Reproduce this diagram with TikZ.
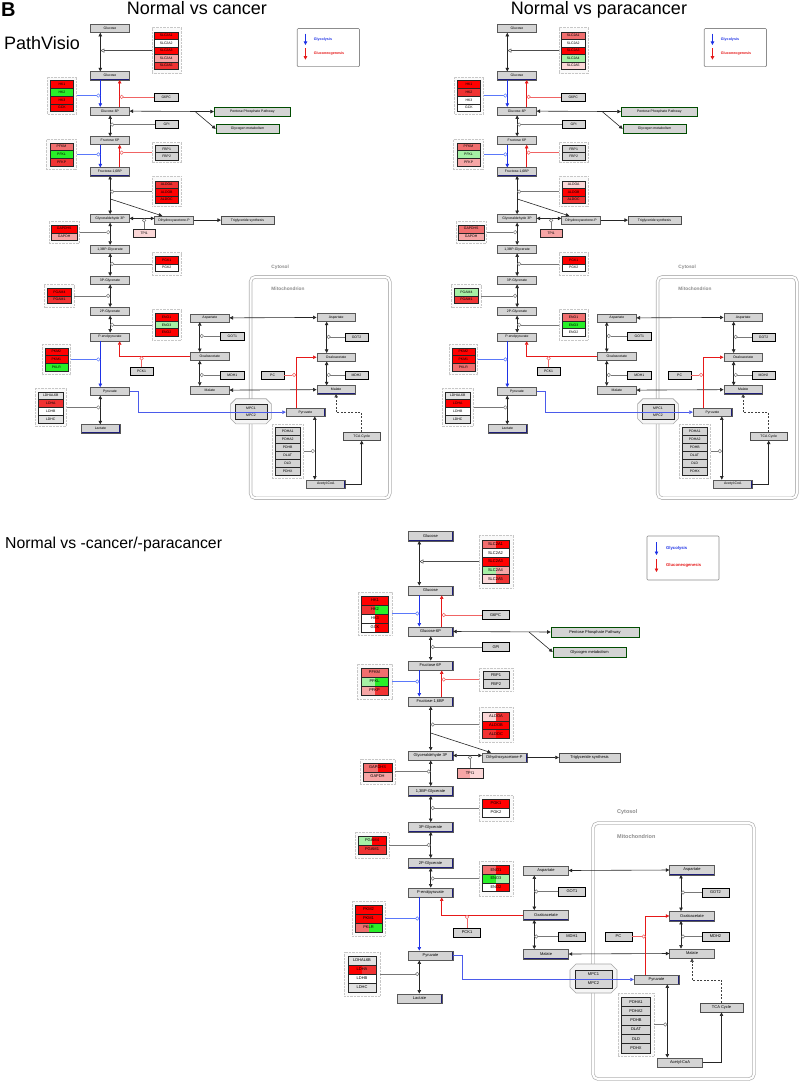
\documentclass[tikz,border=0pt]{standalone}
\usepackage{fontspec}
\setmainfont{Liberation Sans}
\usetikzlibrary{arrows.meta}
\definecolor{metgray}{RGB}{212,212,212}
\definecolor{navyedge}{RGB}{30,30,120}
\definecolor{glyblue}{RGB}{30,50,230}
\definecolor{glured}{RGB}{230,25,25}
\definecolor{catblue}{RGB}{90,120,250}
\definecolor{catred}{RGB}{240,100,100}
\definecolor{catgray}{RGB}{120,120,120}
\definecolor{cR}{RGB}{255,0,0}
\definecolor{cM}{RGB}{240,50,50}
\definecolor{cS}{RGB}{240,110,110}
\definecolor{cP}{RGB}{246,165,165}
\definecolor{cLP}{RGB}{251,215,215}
\definecolor{cW}{RGB}{255,255,255}
\definecolor{cG}{RGB}{40,240,40}
\definecolor{cLG}{RGB}{165,240,165}
\definecolor{cN}{RGB}{212,212,212}
\definecolor{cNb}{RGB}{226,226,226}
% cancer (C) and paracancer (P) colours
\colorlet{CSLCa}{cR}\colorlet{PSLCa}{cS}
\colorlet{CSLCb}{cW}\colorlet{PSLCb}{cW}
\colorlet{CSLCc}{cR}\colorlet{PSLCc}{cR}
\colorlet{CSLCd}{cP}\colorlet{PSLCd}{cLG}
\colorlet{CSLCe}{cM}\colorlet{PSLCe}{cLP}
\colorlet{CHKa}{cR}\colorlet{PHKa}{cR}
\colorlet{CHKb}{cG}\colorlet{PHKb}{cM}
\colorlet{CHKc}{cR}\colorlet{PHKc}{cW}
\colorlet{CGCK}{cR}\colorlet{PGCK}{cW}
\colorlet{CPFKM}{cS}\colorlet{PPFKM}{cS}
\colorlet{CPFKL}{cG}\colorlet{PPFKL}{cLG}
\colorlet{CPFKP}{cM}\colorlet{PPFKP}{cP}
\colorlet{CALDOA}{cM}\colorlet{PALDOA}{cLP}
\colorlet{CALDOB}{cR}\colorlet{PALDOB}{cR}
\colorlet{CALDOC}{cR}\colorlet{PALDOC}{cM}
\colorlet{CTPI}{cLP}\colorlet{PTPI}{cP}
\colorlet{CGAPDHS}{cR}\colorlet{PGAPDHS}{cS}
\colorlet{CGAPDH}{cP}\colorlet{PGAPDH}{cP}
\colorlet{CPGKa}{cR}\colorlet{PPGKa}{cR}
\colorlet{CPGKb}{cW}\colorlet{PPGKb}{cW}
\colorlet{CPGAMd}{cR}\colorlet{PPGAMd}{cLG}
\colorlet{CPGAMa}{cM}\colorlet{PPGAMa}{cM}
\colorlet{CENOa}{cR}\colorlet{PENOa}{cS}
\colorlet{CENOc}{cLG}\colorlet{PENOc}{cG}
\colorlet{CENOb}{cR}\colorlet{PENOb}{cW}
\colorlet{CPKMb}{cR}\colorlet{PPKMb}{cR}
\colorlet{CPKMa}{cR}\colorlet{PPKMa}{cR}
\colorlet{CPKLR}{cG}\colorlet{PPKLR}{cS}
\colorlet{CLDHx}{cNb}\colorlet{PLDHx}{cNb}
\colorlet{CLDHA}{cM}\colorlet{PLDHA}{cR}
\colorlet{CLDHB}{cW}\colorlet{PLDHB}{cW}
\colorlet{CLDHC}{cNb}\colorlet{PLDHC}{cNb}
\colorlet{Cnd}{cN}\colorlet{Pnd}{cN}
\newcommand\setgc[1]{\edef\gcLa{\Lsrc#1}\edef\gcRb{\Rsrc#1}\colorlet{L#1}{\gcLa}\colorlet{R#1}{\gcRb}}
\newcommand\setpanel[2]{\def\Lsrc{#1}\def\Rsrc{#2}%
 \setgc{SLCa}\setgc{SLCb}\setgc{SLCc}\setgc{SLCd}\setgc{SLCe}%
 \setgc{HKa}\setgc{HKb}\setgc{HKc}\setgc{GCK}%
 \setgc{PFKM}\setgc{PFKL}\setgc{PFKP}%
 \setgc{ALDOA}\setgc{ALDOB}\setgc{ALDOC}\setgc{TPI}%
 \setgc{GAPDHS}\setgc{GAPDH}\setgc{PGKa}\setgc{PGKb}%
 \setgc{PGAMd}\setgc{PGAMa}\setgc{ENOa}\setgc{ENOc}\setgc{ENOb}%
 \setgc{PKMb}\setgc{PKMa}\setgc{PKLR}%
 \setgc{LDHx}\setgc{LDHA}\setgc{LDHB}\setgc{LDHC}\setgc{nd}}
\newcommand\gfont{\fontsize{4}{4.4}\selectfont}
\tikzset{
 met/.style={draw=black!65, line width=0.4, fill=metgray, minimum width=45, minimum height=9.5, inner sep=0, font=\gfont,
   path picture={\draw[navyedge, line width=1.7] (path picture bounding box.south east) -- (path picture bounding box.north east);
                 \draw[navyedge, line width=0.7] (path picture bounding box.south west) -- (path picture bounding box.south east);}},
 pw/.style={draw=black!70, line width=0.4, fill=metgray, minimum height=9.5, inner sep=0, font=\gfont},
 pwg/.style={pw, draw=green!30!black, line width=0.7},
 sg/.style={draw=black, line width=0.5, fill=metgray, minimum width=27, minimum height=9, inner sep=0, font=\gfont},
 gene/.style 2 args={draw=black!85, line width=0.35, fill=#1, inner sep=0, font=\gfont,
   path picture={\fill[#2] (path picture bounding box.north) rectangle (path picture bounding box.south east);}},
 grp/.style={draw=black!22, dash pattern=on 0.6pt off 0.8pt, line width=0.6, fill=black!2, inner sep=0},
 mline/.style={line width=0.6, draw=black!85},
 gly/.style={line width=0.6, draw=glyblue, ->},
 glu/.style={line width=0.6, draw=glured, ->},
 cat/.style={line width=0.5, -{Circle[length=4pt, fill=white]}},
 mito/.style={draw=black!30, line width=0.7, double=white, double distance=2, rounded corners=5, minimum width=161, minimum height=256, inner sep=0},
 lbl/.style={anchor=west, inner sep=0, text=black!45, font=\fontsize{5.5}{6}\selectfont\bfseries},
 legbox/.style={draw=black!45, line width=0.6, rounded corners=1, fill=white, minimum width=72, minimum height=44, inner sep=0},
 legt/.style={anchor=west, inner sep=0, font=\fontsize{4.2}{5}\selectfont\bfseries},
 ttl/.style={inner sep=0, font=\fontsize{18}{20}\selectfont},
 mpcoct/.style={draw=black!35, line width=0.6, fill=black!4},
}
\newcommand\gr[7]{\node[gene={L#7}{R#7}, minimum width=#4, minimum height=#5] (#1) at (#2,#3) {#6};}
\newcommand\pathway{%
 \node[mito] (mito) at (673.5,951) {};
 \node[lbl] (cyto) at (617,812) {Cytosol};
 \node[lbl] (mitol) at (617,837) {Mitochondrion};
 \node[legbox] (leg) at (683,558) {};
 \coordinate (lga) at (656.5,542); \coordinate (lgb) at (656.5,555);
 \coordinate (lna) at (656.5,559); \coordinate (lnb) at (656.5,572);
 \draw[gly] (lga) -- (lgb);
 \draw[glu] (lna) -- (lnb);
 \node[legt, text=glyblue] (legg) at (666,548.5) {Glycolysis};
 \node[legt, text=glured] (legn) at (666,565.5) {Gluconeogenesis};
 \coordinate (xl) at (419.3,0); \coordinate (xc) at (430.7,0); \coordinate (xr) at (441.7,0);
 \coordinate (xcl) at (534.3,0); \coordinate (xml) at (681,0); \coordinate (xpc) at (645.7,0); \coordinate (xpa) at (667.3,0);
 % metabolites
 \node[met] (g1) at (430.5,536) {Glucose};
 \node[met] (g2) at (430.5,590.5) {Glucose};
 \node[met] (g6p) at (430.5,631.5) {Glucose-6P};
 \node[met] (f6p) at (430.5,665.5) {Fructose 6P};
 \node[met] (f16) at (430.5,701.5) {Fructose-1,6BP};
 \node[met] (ga3p) at (430.5,755.5) {Glyceraldehyde 3P};
 \node[met] (dhap) at (504.5,757.5) {Dihydroxyacetone-P};
 \node[met] (bpg) at (430.5,791) {1,3BP-Glycerate};
 \node[met] (pg3) at (430.5,827) {3P-Glycerate};
 \node[met] (pg2) at (430.5,863) {2P-Glycerate};
 \node[met] (pep) at (430.5,892.5) {P-enolpyruvate};
 \node[met] (pyr) at (430.5,955.5) {Pyruvate};
 \node[met] (lac) at (419.5,998.5) {Lactate};
 \node[met] (aspc) at (546,870.5) {Aspartate};
 \node[met] (oaac) at (546,915) {Oxaloacetate};
 \node[met] (malc) at (546,954) {Malate};
 \node[met] (aspm) at (692,870) {Aspartate};
 \node[met] (oaam) at (692,916) {Oxaloacetate};
 \node[met] (malm) at (692,953.5) {Malate};
 \node[met] (pyrm) at (656.5,979.5) {Pyruvate};
 \node[met] (acoa) at (680,1062.5) {Acetyl-CoA};
 % pathways
 \node[pw, minimum width=61] (tg) at (589.5,757.5) {Triglyceride synthesis};
 \node[pw, minimum width=43] (tca) at (721.5,1007.5) {TCA Cycle};
 \node[pwg, minimum width=88, minimum height=10] (ppp) at (595,632) {Pentose Phosphate Pathway};
 \node[pwg, minimum width=73, minimum height=10] (glyc) at (589.5,652) {Glycogen metabolism};
 % single genes
 \node[sg] (g6pc) at (495.5,615) {G6PC};
 \node[sg] (gpi) at (496,647) {GPI};
 \node[sg] (pck1) at (467,932.5) {PCK1};
 \node[sg] (got1) at (572,891.5) {GOT1};
 \node[sg] (mdh1) at (572,936.5) {MDH1};
 \node[sg] (pc) at (618.5,936.5) {PC};
 \node[sg] (got2) at (715.5,892.5) {GOT2};
 \node[sg] (mdh2) at (715.5,936.5) {MDH2};
 \node[gene={LTPI}{RTPI}, minimum width=26, minimum height=9.5] (tpi1) at (470,773) {TPI1};
 % gene groups
 \node[grp, minimum width=34, minimum height=53] (slc) at (496,561.5) {};
 \gr{slca}{495.5}{544.3}{27}{8.6}{SLC2A1}{SLCa}
 \gr{slcb}{495.5}{552.9}{27}{8.6}{SLC2A2}{SLCb}
 \gr{slcc}{495.5}{561.5}{27}{8.6}{SLC2A3}{SLCc}
 \gr{slcd}{495.5}{570.1}{27}{8.6}{SLC2A4}{SLCd}
 \gr{slce}{495.5}{578.7}{27}{8.6}{SLC2A5}{SLCe}
 \node[grp, minimum width=34, minimum height=43] (hk) at (375,613.5) {};
 \gr{hka}{375}{600.5}{27}{9}{HK1}{HKa}
 \gr{hkb}{375}{609.5}{27}{9}{HK2}{HKb}
 \gr{hkc}{375}{618.5}{27}{9}{HK3}{HKc}
 \gr{gck}{375}{627.5}{27}{9}{GCK}{GCK}
 \node[grp, minimum width=35, minimum height=35] (pfk) at (374.5,681.5) {};
 \gr{pfkm}{374.5}{672.5}{27}{9}{PFKM}{PFKM}
 \gr{pfkl}{374.5}{681.5}{27}{9}{PFKL}{PFKL}
 \gr{pfkp}{374.5}{690.5}{27}{9}{PFKP}{PFKP}
 \node[grp, minimum width=34, minimum height=23] (fbp) at (496,679.5) {};
 \gr{fbpa}{496}{675.25}{26}{8.5}{FBP1}{nd}
 \gr{fbpb}{496}{683.75}{26}{8.5}{FBP2}{nd}
 \node[grp, minimum width=34, minimum height=35] (aldo) at (496,724.5) {};
 \gr{aldoa}{496}{716.35}{27}{8.7}{ALDOA}{ALDOA}
 \gr{aldob}{496}{725.05}{27}{8.7}{ALDOB}{ALDOB}
 \gr{aldoc}{496}{733.75}{27}{8.7}{ALDOC}{ALDOC}
 \node[grp, minimum width=35, minimum height=25] (gapdh) at (377.5,771.5) {};
 \gr{gapdhs}{377.5}{767.5}{29}{9}{GAPDHS}{GAPDHS}
 \gr{gapdhx}{377.5}{776.5}{29}{9}{GAPDH}{GAPDH}
 \node[grp, minimum width=34, minimum height=26] (pgk) at (496,808) {};
 \gr{pgka}{496}{803.5}{27}{9}{PGK1}{PGKa}
 \gr{pgkb}{496}{812.5}{27}{9}{PGK2}{PGKb}
 \node[grp, minimum width=34, minimum height=26] (pgam) at (372,845) {};
 \gr{pgamd}{372}{840.5}{28}{9}{PGAM4}{PGAMd}
 \gr{pgama}{372}{849.5}{28}{9}{PGAM1}{PGAMa}
 \node[grp, minimum width=34, minimum height=35] (eno) at (496,878.5) {};
 \gr{enoa}{496}{869.85}{27}{8.7}{ENO1}{ENOa}
 \gr{enoc}{496}{878.55}{27}{8.7}{ENO3}{ENOc}
 \gr{enob}{496}{887.25}{27}{8.7}{ENO2}{ENOb}
 \node[grp, minimum width=33, minimum height=35] (pkm) at (368.5,918.5) {};
 \gr{pkmb}{368.5}{909.5}{27}{9}{PKM2}{PKMb}
 \gr{pkma}{368.5}{918.5}{27}{9}{PKM1}{PKMa}
 \gr{pklr}{368.5}{927.5}{27}{9}{PKLR}{PKLR}
 \node[grp, minimum width=36, minimum height=44] (ldh) at (362,974) {};
 \gr{ldhx}{362}{960.5}{28}{9}{LDHAL6B}{LDHx}
 \gr{ldha}{362}{969.5}{28}{9}{LDHA}{LDHA}
 \gr{ldhb}{362}{978.5}{28}{9}{LDHB}{LDHB}
 \gr{ldhc}{362}{987.5}{28}{9}{LDHC}{LDHC}
 \node[grp, minimum width=36, minimum height=63] (pdh) at (636,1024.5) {};
 \gr{pdha}{636}{1001.65}{29}{9.3}{PDHA1}{nd}
 \gr{pdhb}{636}{1010.95}{29}{9.3}{PDHA2}{nd}
 \gr{pdhc}{636}{1020.25}{29}{9.3}{PDHB}{nd}
 \gr{pdhd}{636}{1029.55}{29}{9.3}{DLAT}{nd}
 \gr{pdhe}{636}{1038.85}{29}{9.3}{DLD}{nd}
 \gr{pdhf}{636}{1048.15}{29}{9.3}{PDHX}{nd}
 \draw[mpcoct] (576,964) -- (611,964) -- (617,970) -- (617,987) -- (611,993) -- (576,993) -- (570,987) -- (570,970) -- cycle;
 \gr{mpca}{593.5}{974.5}{37}{9}{MPC1}{nd}
 \gr{mpcb}{593.5}{983.5}{37}{9}{MPC2}{nd}
 % main reactions
 \draw[mline,<->] (g1.south -| xl) -- (g2.north -| xl);
 \draw[gly] (g2.south -| xl) -- (g6p.north -| xl);
 \draw[glu] (g6p.north -| xr) -- (g2.south -| xr);
 \draw[mline,<->] (g6p.east) -- (ppp.west);
 \coordinate (gst) at (529,632);
 \draw[mline,->] (gst) -- (glyc.west);
 \draw[mline,<->] (g6p.south -| xc) -- (f6p.north -| xc);
 \draw[gly] (f6p.south -| xl) -- (f16.north -| xl);
 \draw[glu] (f16.north -| xr) -- (f6p.south -| xr);
 \draw[mline,<->] (f16.south -| xc) -- (ga3p.north -| xc);
 \coordinate (dst) at (430.7,733); \coordinate (den) at (491,752.6);
 \draw[mline,->] (dst) -- (den);
 \draw[mline,<->] (ga3p.east) -- (ga3p.east -| dhap.west);
 \draw[mline,->] (dhap.east) -- (tg.west);
 \draw[mline,<->] (ga3p.south -| xc) -- (bpg.north -| xc);
 \draw[mline,<->] (bpg.south -| xc) -- (pg3.north -| xc);
 \draw[mline,<->] (pg3.south -| xc) -- (pg2.north -| xc);
 \draw[mline,<->] (pg2.south -| xc) -- (pep.north -| xc);
 \draw[gly] (pep.south -| xl) -- (pyr.north -| xl);
 \draw[glu] (oaac.west) -| (pep.south -| xr);
 \draw[mline,<->] (pyr.south -| xl) -- (lac.north -| xl);
 \coordinate (pbend) at (462.7,955.5);
 \draw[line width=0.6, draw=glyblue!80, ->] (pyr.east) -- (pbend) |- (pyrm.west);
 \draw[mline,<->] (aspc.east) -- (aspm.west);
 \draw[mline,<->] (aspc.south -| xcl) -- (oaac.north -| xcl);
 \draw[mline,<->] (oaac.south -| xcl) -- (malc.north -| xcl);
 \draw[mline,<->] (malc.east) -- (malm.west);
 \draw[mline,<->] (aspm.south -| xml) -- (oaam.north -| xml);
 \draw[mline,<->] (oaam.south -| xml) -- (malm.north -| xml);
 \draw[glu] (pyrm.north -| xpc) |- (oaam.west);
 \draw[mline,<->] (pyrm.south -| xpa) -- (acoa.north -| xpa);
 \draw[mline,->] (acoa.east) -| (tca.south);
 \coordinate (tcab) at (721.5,980); \coordinate (malb) at (692,980);
 \draw[line width=0.5, draw=black!75, dash pattern=on 2pt off 1.5pt, ->] (tca.north) -- (tcab) -- (malb) -- (malm.south);
 % catalysis
 \draw[line width=0.5, draw=black!70, -{Triangle[open, length=4pt, width=4pt]}] (slc.west) -- (slc.west -| xl);
 \draw[cat, catblue] (hk.east) -- (hk.east -| xl);
 \draw[cat, catred] (g6pc.west) -- (g6pc.west -| xr);
 \draw[cat, catgray] (gpi.west) -- (gpi.west -| xc);
 \draw[cat, catblue] (pfk.east) -- (pfk.east -| xl);
 \draw[cat, catred] (fbp.west) -- (fbp.west -| xr);
 \draw[cat, catgray] (aldo.west) -- (aldo.west -| xc);
 \draw[cat, catgray] (tpi1.north) -- (tpi1.north |- ga3p.east);
 \draw[cat, catgray] (gapdh.east) -- (gapdh.east -| xc);
 \draw[cat, catgray] (pgk.west) -- (pgk.west -| xc);
 \draw[cat, catgray] (pgam.east) -- (pgam.east -| xc);
 \draw[cat, catgray] (eno.west) -- (eno.west -| xc);
 \draw[cat, catblue] (pkm.east) -- (pkm.east -| xl);
 \draw[cat, catred] (pck1.north) -- (pck1.north |- oaac.west);
 \draw[cat, catgray] (ldh.east) -- (ldh.east -| xl);
 \draw[cat, catgray] (got1.west) -- (got1.west -| xcl);
 \draw[cat, catgray] (mdh1.west) -- (mdh1.west -| xcl);
 \draw[cat, catgray] (got2.west) -- (got2.west -| xml);
 \draw[cat, catgray] (mdh2.west) -- (mdh2.west -| xml);
 \draw[cat, catred] (pc.east) -- (pc.east -| xpc);
 \draw[cat, catgray] (pdh.east) -- (pdh.east -| xpa);
}
\begin{document}
\begin{tikzpicture}[x=1pt, y=-1pt, >={Triangle[length=3.5pt,width=3.5pt]}]
\useasboundingbox[fill=white] (0,0) rectangle (798,1081);
\node[inner sep=0, anchor=base west, font=\fontsize{20}{22}\selectfont\bfseries] (lab) at (1,17) {B};
\node[ttl, anchor=base] (t1) at (197,15) {Normal vs cancer};
\node[ttl, anchor=base] (t2) at (599,15) {Normal vs paracancer};
\node[ttl, anchor=base west] (pv) at (4,50) {PathVisio};
\node[inner sep=0, anchor=base west, font=\fontsize{15.8}{18}\selectfont] (t3) at (5,548) {Normal vs -cancer/-paracancer};
\begin{scope}[shift={(-262.4,-435.1)}, scale=0.865, transform shape, name prefix=a-]
\setpanel{C}{C}\pathway
\end{scope}
\begin{scope}[shift={(144.6,-435.1)}, scale=0.865, transform shape, name prefix=b-]
\setpanel{P}{P}\pathway
\end{scope}
\begin{scope}[name prefix=c-]
\setpanel{P}{C}\pathway
\end{scope}
\end{tikzpicture}
\end{document}
